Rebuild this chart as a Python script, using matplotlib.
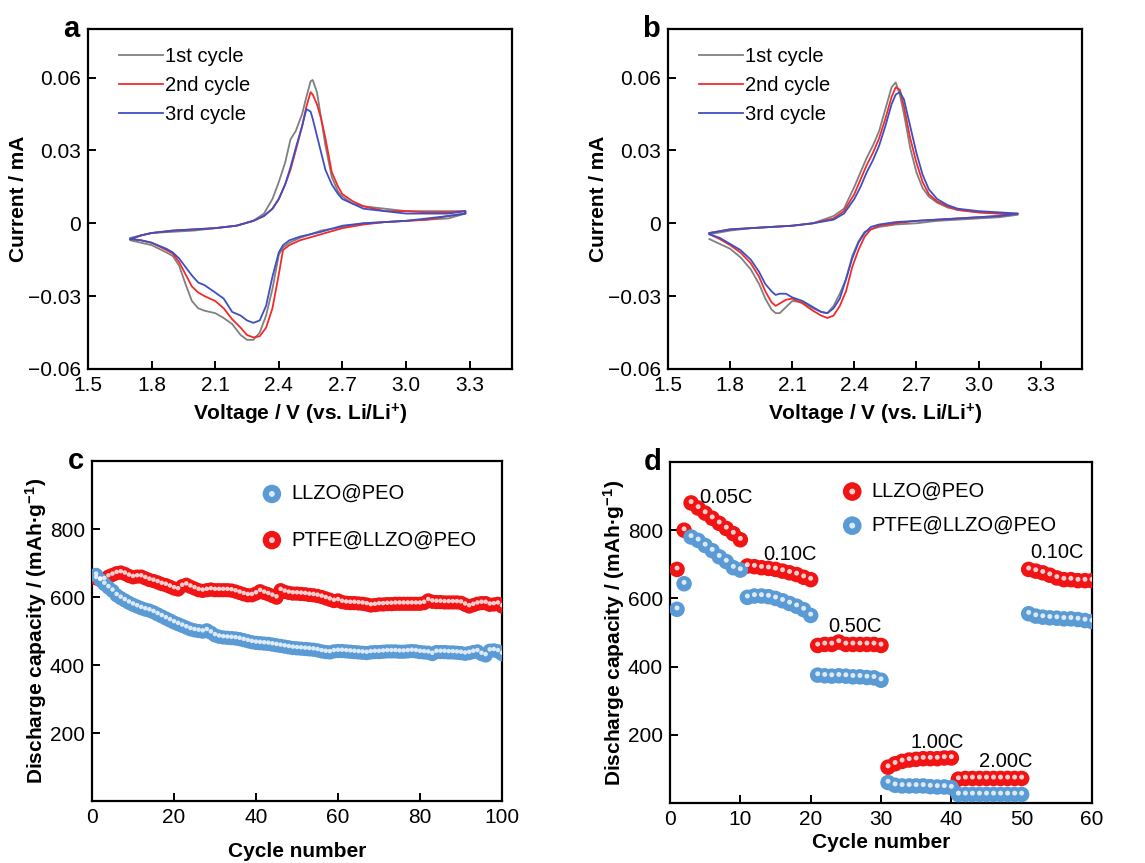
import numpy as np
import matplotlib
matplotlib.use("Agg")
import matplotlib.pyplot as plt
from matplotlib.ticker import FixedLocator, FuncFormatter

plt.rcParams['font.family'] = ['Liberation Sans', 'DejaVu Sans']
plt.rcParams['mathtext.fontset'] = 'custom'
plt.rcParams['mathtext.rm'] = 'Liberation Sans:bold'
plt.rcParams['mathtext.it'] = 'Liberation Sans:bold:italic'
plt.rcParams['mathtext.bf'] = 'Liberation Sans:bold'

# ---- panel a: CV curves (voltage grid shared by the three cycles) ----
va = [1.70, 1.75, 1.80, 1.90, 2.00, 2.10, 2.20, 2.28, 2.33, 2.37, 2.40, 2.43, 2.455, 2.48, 2.51, 2.53,
      2.55, 2.56, 2.58, 2.60, 2.62, 2.65, 2.68, 2.70, 2.75, 2.80, 2.90, 3.00, 3.10, 3.20, 3.28,
      3.28, 3.20, 3.10, 3.00, 2.90, 2.80, 2.70, 2.60, 2.50, 2.45, 2.42, 2.40, 2.37, 2.34, 2.31, 2.28,
      2.25, 2.22, 2.18, 2.14, 2.10, 2.05, 2.02, 1.99, 1.96, 1.93, 1.90, 1.87, 1.80, 1.75, 1.70]
ia_1st = [-0.006, -0.005, -0.004, -0.0035, -0.003, -0.002, -0.001, 0.001, 0.004, 0.010, 0.017, 0.025, 0.0345, 0.038, 0.045, 0.052,
          0.0585, 0.059, 0.054, 0.043, 0.032, 0.019, 0.013, 0.011, 0.008, 0.007, 0.006, 0.005, 0.005, 0.005, 0.005,
          0.004, 0.002, 0.0015, 0.001, 0.0005, 0.0, -0.0015, -0.003, -0.006, -0.008, -0.010, -0.013, -0.027, -0.038, -0.045, -0.048,
          -0.048, -0.046, -0.0415, -0.039, -0.037, -0.036, -0.035, -0.032, -0.025, -0.0175, -0.0135, -0.012, -0.009, -0.008, -0.007]
ia_2nd = [-0.0065, -0.005, -0.004, -0.003, -0.0025, -0.002, -0.001, 0.001, 0.003, 0.006, 0.010, 0.016, 0.022, 0.030, 0.040, 0.048,
          0.054, 0.053, 0.049, 0.043, 0.035, 0.021, 0.015, 0.012, 0.009, 0.007, 0.005, 0.005, 0.0045, 0.0045, 0.005,
          0.004, 0.003, 0.0015, 0.001, 0.0005, -0.0005, -0.002, -0.0045, -0.007, -0.009, -0.011, -0.021, -0.035, -0.043, -0.0465, -0.047,
          -0.046, -0.043, -0.0395, -0.035, -0.032, -0.030, -0.0285, -0.026, -0.021, -0.016, -0.0125, -0.011, -0.008, -0.007, -0.0065]
ia_3rd = [-0.0065, -0.005, -0.004, -0.003, -0.0025, -0.002, -0.001, 0.001, 0.003, 0.006, 0.010, 0.016, 0.023, 0.031, 0.040, 0.047,
          0.046, 0.043, 0.036, 0.029, 0.022, 0.016, 0.012, 0.010, 0.008, 0.006, 0.005, 0.004, 0.004, 0.004, 0.005,
          0.004, 0.003, 0.002, 0.001, 0.0005, 0.0, -0.001, -0.0035, -0.0055, -0.007, -0.009, -0.012, -0.022, -0.034, -0.040, -0.041,
          -0.040, -0.038, -0.0365, -0.031, -0.0285, -0.0255, -0.0244, -0.0215, -0.018, -0.0145, -0.012, -0.0105, -0.008, -0.007, -0.0065]

# ---- panel b: CV curves ----
vb = [1.70, 1.80, 1.90, 2.00, 2.10, 2.20, 2.30, 2.35, 2.40, 2.43, 2.46, 2.49, 2.52, 2.55, 2.58, 2.60,
      2.62, 2.64, 2.67, 2.70, 2.73, 2.76, 2.80, 2.85, 2.90, 3.00, 3.10, 3.19,
      3.19, 3.10, 3.00, 2.90, 2.80, 2.70, 2.60, 2.52, 2.48, 2.45, 2.42, 2.39, 2.36, 2.33, 2.30, 2.27,
      2.24, 2.20, 2.15, 2.10, 2.07, 2.04, 2.02, 2.00, 1.97, 1.94, 1.90, 1.85, 1.80, 1.75, 1.70]
ib_1st = [-0.0045, -0.003, -0.002, -0.0015, -0.001, 0.0, 0.003, 0.006, 0.015, 0.021, 0.027, 0.032, 0.038, 0.047, 0.056, 0.058,
          0.053, 0.045, 0.031, 0.021, 0.0145, 0.011, 0.0085, 0.0065, 0.0055, 0.0045, 0.004, 0.0035,
          0.0035, 0.0025, 0.002, 0.0015, 0.001, 0.0, -0.0005, -0.0015, -0.0025, -0.0035, -0.0075, -0.0135, -0.023, -0.029, -0.034, -0.037,
          -0.0365, -0.035, -0.0325, -0.032, -0.0345, -0.037, -0.037, -0.0355, -0.031, -0.025, -0.019, -0.014, -0.0105, -0.0085, -0.0065]
ib_2nd = [-0.004, -0.0025, -0.002, -0.0015, -0.001, 0.0, 0.002, 0.005, 0.012, 0.018, 0.024, 0.029, 0.035, 0.043, 0.052, 0.056,
          0.055, 0.048, 0.035, 0.025, 0.017, 0.012, 0.009, 0.007, 0.0055, 0.0045, 0.004, 0.004,
          0.004, 0.003, 0.0025, 0.002, 0.0015, 0.001, 0.0, -0.001, -0.0025, -0.0055, -0.011, -0.018, -0.028, -0.034, -0.038, -0.039,
          -0.038, -0.036, -0.033, -0.031, -0.0315, -0.033, -0.034, -0.0325, -0.028, -0.022, -0.0165, -0.012, -0.009, -0.0065, -0.0045]
ib_3rd = [-0.004, -0.0025, -0.002, -0.0015, -0.001, 0.0, 0.0015, 0.004, 0.010, 0.015, 0.021, 0.026, 0.032, 0.040, 0.049, 0.053,
          0.054, 0.051, 0.040, 0.029, 0.020, 0.014, 0.010, 0.0075, 0.006, 0.005, 0.0045, 0.004,
          0.004, 0.003, 0.0025, 0.002, 0.0015, 0.001, 0.0005, -0.0005, -0.0015, -0.004, -0.008, -0.0145, -0.023, -0.031, -0.035, -0.037,
          -0.0365, -0.0345, -0.032, -0.0305, -0.029, -0.029, -0.0295, -0.028, -0.025, -0.020, -0.015, -0.011, -0.0085, -0.006, -0.0045]

cv_labels = ['1st cycle', '2nd cycle', '3rd cycle']
cv_colors = ['#808080', '#f42a2a', '#3e4fc4']
cv_yticks = [-0.06, -0.03, 0, 0.03, 0.06]
cv_xticks = [1.5, 1.8, 2.1, 2.4, 2.7, 3.0, 3.3]

# ---- panel c: cycling at fixed rate ----
cycles_c = np.arange(1, 101)
cap_llzo_c = [665, 650, 638, 628, 618, 605, 597, 590, 583, 577,
              572, 567, 563, 560, 555, 549, 543, 537, 531, 525,
              520, 515, 510, 505, 502, 500, 498, 502, 495, 487,
              483, 481, 480, 479, 478, 476, 473, 470, 467, 465,
              464, 463, 462, 460, 458, 456, 454, 452, 450, 449,
              448, 447, 446, 445, 443, 440, 438, 437, 440, 441,
              441, 440, 439, 438, 437, 436, 435, 437, 438, 438,
              439, 440, 440, 440, 439, 439, 440, 441, 440, 438,
              437, 436, 432, 438, 438, 438, 437, 437, 436, 435,
              433, 435, 438, 440, 432, 428, 442, 443, 440, 432]
cap_ptfe_c = [655, 650, 652, 660, 665, 670, 672, 668, 662, 658,
              660, 660, 655, 650, 647, 643, 638, 635, 630, 625,
              622, 632, 636, 630, 625, 620, 618, 620, 622, 620,
              620, 620, 620, 619, 616, 612, 608, 605, 605, 610,
              617, 612, 608, 603, 598, 620, 615, 612, 610, 610,
              609, 608, 606, 605, 603, 600, 596, 592, 588, 590,
              585, 583, 582, 582, 581, 580, 578, 575, 576, 578,
              578, 579, 579, 580, 580, 580, 580, 580, 580, 580,
              582, 590, 586, 585, 585, 584, 584, 584, 584, 583,
              577, 572, 576, 580, 582, 582, 577, 578, 580, 572]

# ---- panel d: rate capability ----
cycles_d = np.arange(1, 61)
cap_llzo_d = [685, 800, 880, 865, 850, 835, 820, 805, 790, 772,
              695, 693, 690, 688, 685, 680, 675, 670, 662, 655,
              462, 465, 465, 472, 465, 465, 465, 465, 465, 462,
              105, 115, 122, 126, 128, 130, 130, 130, 132, 132,
              70, 72, 72, 72, 72, 72, 72, 72, 72, 72,
              685, 680, 675, 668, 660, 655, 655, 652, 652, 652]
cap_ptfe_d = [568, 643, 780, 770, 755, 740, 722, 708, 690, 683,
              603, 607, 607, 605, 600, 593, 585, 577, 567, 550,
              375, 373, 372, 373, 372, 370, 370, 368, 367, 360,
              60, 52, 50, 50, 50, 50, 48, 47, 47, 45,
              25, 25, 25, 25, 25, 25, 25, 25, 25, 25,
              555, 548, 545, 543, 542, 540, 540, 538, 535, 532]
rate_labels = ['0.05C', '0.10C', '0.50C', '1.00C', '2.00C', '0.10C']
rate_x = [4.2, 13.3, 22.5, 34.2, 44.0, 51.2]
rate_y = [868, 700, 490, 150, 95, 708]

blue = '#5b9bd5'
red = '#f01414'
tick_fs = 15
label_fs = 15
leg_fs = 14.5

fig = plt.figure(figsize=(11.45, 8.63), dpi=100)
W, H = 1145, 863


def px_axes(l, t, r, b):
    return fig.add_axes([l / W, 1 - b / H, (r - l) / W, (b - t) / H])


def style(ax):
    for s in ax.spines.values():
        s.set_linewidth(1.6)
    ax.tick_params(direction='in', length=5.5, width=1.4, labelsize=tick_fs,
                   top=False, right=False, pad=5)


def cv_panel(ax, v, curves, letter):
    for cur, lab, col in zip(curves, cv_labels, cv_colors):
        ax.plot(v, cur, color=col, lw=1.3, label=lab)
    ax.set_xlim(1.5, 3.5)
    ax.set_ylim(-0.06, 0.08)
    ax.xaxis.set_major_locator(FixedLocator(cv_xticks))
    ax.yaxis.set_major_locator(FixedLocator(cv_yticks))
    ax.yaxis.set_major_formatter(FuncFormatter(
        lambda y, p: '0' if abs(y) < 1e-9 else ('%.2f' % y).replace('-', '\u2212')))
    style(ax)
    ax.set_xlabel('Voltage / V (vs. Li/Li$^{+}$)', fontsize=label_fs, fontweight='bold', labelpad=5)
    ax.set_ylabel('Current / mA', fontsize=label_fs, fontweight='bold', labelpad=0)
    ax.legend(loc='upper left', bbox_to_anchor=(0.03, 1.0), frameon=False, fontsize=leg_fs,
              handlelength=2.2, handletextpad=0.1, labelspacing=0.5)
    ax.text(-0.04, 1.0, letter, transform=ax.transAxes, fontsize=21, fontweight='bold',
            ha='center', va='center')


def spheres(ax, x, y, color, s):
    main = ax.scatter(x, y, s=s, color=color, edgecolors='none', zorder=3)
    hl = ax.scatter(x, np.asarray(y) + 4, s=s * 0.1, color='white', alpha=0.8,
                    edgecolors='none', zorder=4)
    return (main, hl)


def cap_axes(ax, xmax, xstep, letter):
    ax.set_xlim(0, xmax)
    ax.set_ylim(0, 1000)
    ax.set_xticks(np.arange(0, xmax + 1, xstep))
    ax.set_yticks([200, 400, 600, 800])
    style(ax)
    ax.set_ylabel('Discharge capacity / (mAh\u00b7g$^{\u22121}$)', fontsize=label_fs,
                  fontweight='bold', labelpad=1)
    ax.text(-0.04, 1.0, letter, transform=ax.transAxes, fontsize=21, fontweight='bold',
            ha='center', va='center')


# a
ax_a = px_axes(88, 29, 512, 369)
cv_panel(ax_a, va, [ia_1st, ia_2nd, ia_3rd], 'a')

# b
ax_b = px_axes(668, 29, 1082, 369)
cv_panel(ax_b, vb, [ib_1st, ib_2nd, ib_3rd], 'b')

# c
ax_c = px_axes(92, 461, 502, 801)
h_red_c = spheres(ax_c, cycles_c, cap_ptfe_c, red, 105)
h_blue_c = spheres(ax_c, cycles_c, cap_llzo_c, blue, 105)
cap_axes(ax_c, 100, 20, 'c')
ax_c.set_xlabel('Cycle number', fontsize=label_fs, fontweight='bold', labelpad=11)
ax_c.legend([h_blue_c, h_red_c], ['LLZO@PEO', 'PTFE@LLZO@PEO'], loc='upper left',
            bbox_to_anchor=(0.37, 0.985), frameon=False, fontsize=leg_fs, handlelength=1.0,
            handletextpad=0.45, labelspacing=1.35, scatterpoints=1, markerscale=1.3)

# d
ax_d = px_axes(670, 462, 1092, 803)
h_red_d = spheres(ax_d, cycles_d, cap_llzo_d, red, 125)
h_blue_d = spheres(ax_d, cycles_d, cap_ptfe_d, blue, 125)
cap_axes(ax_d, 60, 10, 'd')
ax_d.set_xlabel('Cycle number', fontsize=label_fs, fontweight='bold', labelpad=3)
ax_d.legend([h_red_d, h_blue_d], ['LLZO@PEO', 'PTFE@LLZO@PEO'], loc='upper left',
            bbox_to_anchor=(0.365, 0.995), frameon=False, fontsize=leg_fs, handlelength=1.0,
            handletextpad=0.45, labelspacing=0.75, scatterpoints=1, markerscale=1.2)
for lab, x, y in zip(rate_labels, rate_x, rate_y):
    ax_d.text(x, y, lab, fontsize=leg_fs, ha='left', va='bottom', zorder=5)

fig.savefig('out.png', dpi=100)
